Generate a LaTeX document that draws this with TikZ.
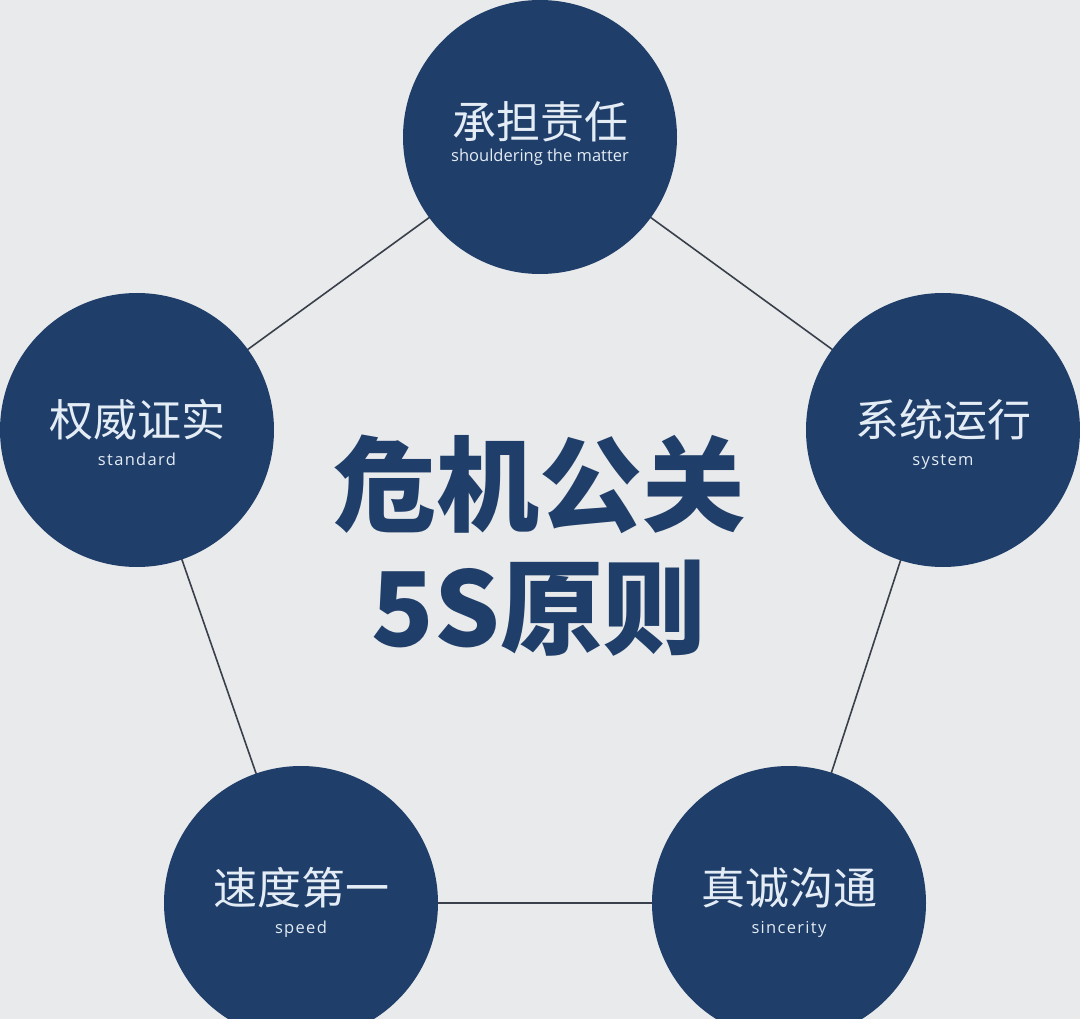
\documentclass[tikz,border=0pt]{standalone}
\usepackage{fontspec}
\setmainfont{Open Sans}
\newfontfamily\cjk{Noto Sans CJK SC}
\definecolor{bg}{HTML}{E9EAEC}
\definecolor{navy}{HTML}{1F3E69}
\definecolor{edge}{HTML}{3A404B}
\definecolor{lab}{HTML}{E4ECF5}
\tikzset{
  bubble/.style={circle,fill=navy,minimum size=274pt,inner sep=0pt},
  zh/.style={text=lab,font=\cjk\fontsize{44}{48}\selectfont},
  en/.style={text=lab,font=\fontsize{16.5}{19}\selectfont,text height=12pt,text depth=4pt},
  link/.style={draw=edge,line width=1.6pt}
}
\begin{document}
\begin{tikzpicture}[x=1pt,y=-1pt]
\fill[bg] (0,0) rectangle (1080,1019);
\clip (0,0) rectangle (1080,1019);
\coordinate (t) at (540,137);
\coordinate (r) at (943,430);
\coordinate (br) at (789,903);
\coordinate (bl) at (301,903);
\coordinate (l) at (137,430);
\draw[link] (t) -- (r) -- (br) -- (bl) -- (l) -- cycle;
\node[bubble] (nt) at (t) {};
\node[bubble] (nr) at (r) {};
\node[bubble] (nbr) at (br) {};
\node[bubble] (nbl) at (bl) {};
\node[bubble] (nl) at (l) {};
\node[zh] (zt) at (540,122) {承担责任};
\node[en] (et) at (540,158) {shouldering the matter};
\node[zh] (zl) at (137,420) {权威证实};
\node[en] (el) at (137,461) {\addfontfeature{LetterSpace=8}standard};
\node[zh] (zr) at (943,420) {系统运行};
\node[en] (er) at (943,461) {\addfontfeature{LetterSpace=8}system};
\node[zh] (zbl) at (301,888) {速度第一};
\node[en] (ebl) at (301,929) {\addfontfeature{LetterSpace=8}speed};
\node[zh] (zbr) at (789,888) {真诚沟通};
\node[en] (ebr) at (789,929) {\addfontfeature{LetterSpace=8}sincerity};
\node[text=navy,font=\cjk\bfseries\fontsize{103}{110}\selectfont] (t1) at (539,484) {危机公关};
\node[text=navy,font=\cjk\bfseries\fontsize{103}{110}\selectfont] (t2) at (539,608) {5S原则};
\end{tikzpicture}
\end{document}
